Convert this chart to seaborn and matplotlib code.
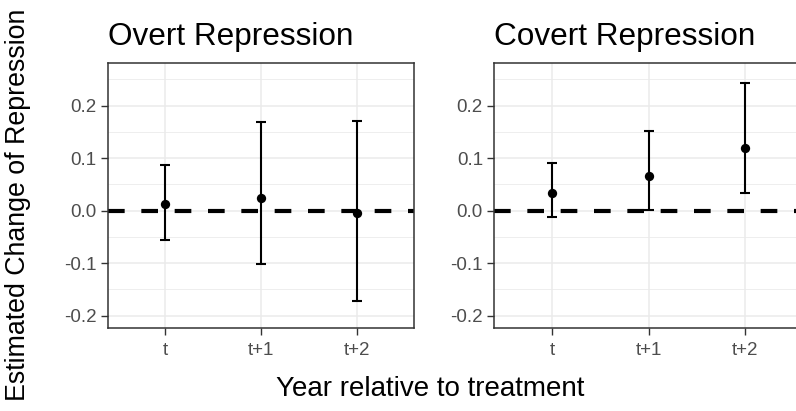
import matplotlib
matplotlib.use("Agg")
import matplotlib.pyplot as plt
import seaborn as sns
import pandas as pd

# Event-study estimates with 95% confidence bounds
periods = ["t", "t+1", "t+2"]
overt_est = [0.013, 0.024, -0.005]
overt_lo = [-0.056, -0.102, -0.173]
overt_hi = [0.088, 0.169, 0.171]
covert_est = [0.033, 0.066, 0.120]
covert_lo = [-0.012, 0.001, 0.034]
covert_hi = [0.090, 0.152, 0.244]
panel_titles = ["Overt Repression", "Covert Repression"]
y_ticks = [-0.2, -0.1, 0.0, 0.1, 0.2]

sns.set_theme(style="white")
plt.rcParams["font.family"] = ["Liberation Sans", "DejaVu Sans"]

W, H = 796, 411
fig = plt.figure(figsize=(W / 100, H / 100), dpi=100)

def px_axes(x0, x1, y0, y1):
    return fig.add_axes([x0 / W, 1 - y1 / H, (x1 - x0) / W, (y1 - y0) / H])

axes = [px_axes(107.7, 414.0, 62.7, 327.7), px_axes(494.0, 803.0, 62.7, 327.7)]

frames = [
    pd.DataFrame({"period": periods, "est": overt_est, "lo": overt_lo, "hi": overt_hi}),
    pd.DataFrame({"period": periods, "est": covert_est, "lo": covert_lo, "hi": covert_hi}),
]

grey20 = "#333333"
for ax, df, title in zip(axes, frames, panel_titles):
    ax.set_facecolor("white")
    # grid: major and minor horizontal lines, major vertical at categories
    for v in [-0.2, -0.15, -0.1, -0.05, 0.0, 0.05, 0.1, 0.15, 0.2, 0.25]:
        major = abs(round(v / 0.1) * 0.1 - v) < 1e-9
        ax.axhline(v, color="#EBEBEB", lw=1.1 if major else 0.6, zorder=0)
    xs = list(range(len(periods)))
    for x in xs:
        ax.axvline(x, color="#EBEBEB", lw=1.1, zorder=0)

    ax.axhline(0, color="black", lw=3.0, linestyle=(0, (4, 4)), zorder=2)
    ax.errorbar(xs, df["est"],
                yerr=[df["est"] - df["lo"], df["hi"] - df["est"]],
                fmt="none", ecolor="black", elinewidth=1.5, capsize=3.6,
                capthick=1.5, zorder=3)
    sns.scatterplot(data=df.assign(xpos=xs), x="xpos", y="est", ax=ax,
                    color="black", s=45, edgecolor="black", linewidth=0,
                    zorder=4, legend=False)

    ax.set_xlim(-0.6, 2.6)
    ax.set_ylim(-0.223, 0.282)
    ax.set_xticks(xs)
    ax.set_xticklabels(periods)
    ax.set_yticks(y_ticks)
    ax.set_yticklabels([f"{v:.1f}" for v in y_ticks])
    ax.tick_params(axis="both", length=5, width=1.0, color=grey20,
                   labelsize=13.5, labelcolor="#4D4D4D", pad=3, direction="out",
                   bottom=True, left=True)
    ax.tick_params(axis="x", pad=5)
    ax.set_xlabel("")
    ax.set_ylabel("")
    for s in ax.spines.values():
        s.set_color(grey20)
        s.set_linewidth(1.1)
        s.set_visible(True)
    ax.text(0, 1 + 17.7 / 265, title, transform=ax.transAxes, ha="left",
            va="baseline", fontsize=22.7, color="black")

fig.text(430 / W, 1 - 389 / H, "Year relative to treatment", ha="center",
         va="center", fontsize=20, color="black")
fig.text(18 / W, 1 - 205 / H, "Estimated Change of Repression", ha="center",
         va="center", rotation=90, fontsize=19.3, color="black")

fig.savefig("out.png", dpi=100)
